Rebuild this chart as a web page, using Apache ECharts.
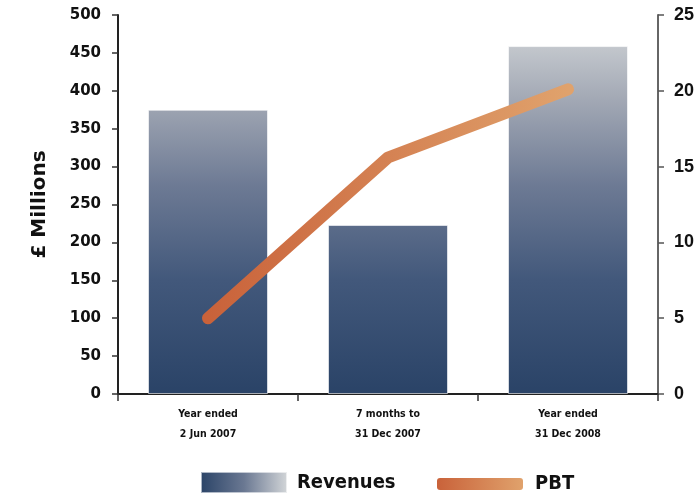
<!DOCTYPE html>
<html>
<head>
<meta charset="utf-8">
<script src="https://cdn.jsdelivr.net/npm/echarts@6/dist/echarts.min.js"></script>
<style>
html,body{margin:0;padding:0;background:#fff;}
#chart{width:698px;height:497px;}
</style>
</head>
<body>
<div id="chart"></div>
<script>
var categories = ['Year ended\n2 Jun 2007', '7 months to\n31 Dec 2007', 'Year ended\n31 Dec 2008'];
var revenues = [375, 223, 459];
var pbt = [5.0, 15.6, 20.1];
var leftTicks = {min: 0, max: 500, interval: 50};
var rightTicks = {min: 0, max: 25, interval: 5};

var chart = echarts.init(document.getElementById('chart'), null, {renderer: 'canvas'});

var barGrad = new echarts.graphic.LinearGradient(0, 394, 0, 15, [
  {offset: 0, color: '#2a4367'},
  {offset: 0.3, color: '#42587b'},
  {offset: 0.55, color: '#6d7a94'},
  {offset: 0.78, color: '#a3a9b5'},
  {offset: 1, color: '#d6d9db'}
], true);
var lineGrad = new echarts.graphic.LinearGradient(208, 0, 568, 0, [
  {offset: 0, color: '#c9623a'},
  {offset: 1, color: '#e0a26c'}
], true);
var legendBarGrad = new echarts.graphic.LinearGradient(0, 0, 1, 0, [
  {offset: 0, color: '#2a4367'},
  {offset: 0.5, color: '#6a7892'},
  {offset: 1, color: '#d4d7d9'}
]);
var legendLineGrad = new echarts.graphic.LinearGradient(0, 0, 1, 0, [
  {offset: 0, color: '#c9623a'},
  {offset: 1, color: '#e0a26c'}
]);

var option = {
  animation: false,
  backgroundColor: '#ffffff',
  grid: {left: 118, right: 40, top: 15, bottom: 103},
  legend: [
    {
      data: [{name: 'Revenues', itemStyle: {color: legendBarGrad}}],
      left: 195, top: 466, padding: 5,
      icon: 'rect', itemWidth: 86, itemHeight: 21, itemGap: 10,
      textStyle: {fontFamily: 'DejaVu Sans Condensed', fontWeight: 'bold', fontSize: 20, color: '#111', padding: [0, 0, 0, 5]}
    },
    {
      data: [{name: 'PBT', itemStyle: {color: legendLineGrad}}],
      left: 432, top: 469, padding: 5,
      icon: 'roundRect', itemWidth: 86, itemHeight: 12, itemGap: 10,
      textStyle: {fontFamily: 'DejaVu Sans Condensed', fontWeight: 'bold', fontSize: 20, color: '#111', padding: [0, 0, 0, 7]}
    }
  ],
  xAxis: {
    type: 'category',
    data: categories,
    boundaryGap: true,
    axisLine: {lineStyle: {color: '#222', width: 2}},
    axisTick: {show: true, length: 7, lineStyle: {color: '#333', width: 1.5}},
    axisLabel: {
      interval: 0,
      fontFamily: 'DejaVu Sans Condensed', fontWeight: 'bold', fontSize: 10.5,
      color: '#111', lineHeight: 20, margin: 10
    }
  },
  yAxis: [
    {
      type: 'value',
      min: leftTicks.min, max: leftTicks.max, interval: leftTicks.interval,
      name: '£ Millions',
      nameLocation: 'middle',
      nameRotate: 90,
      nameGap: 68,
      nameTextStyle: {fontFamily: 'DejaVu Sans', fontWeight: 'bold', fontSize: 20, color: '#111'},
      axisLine: {show: true, lineStyle: {color: '#222', width: 2}},
      axisTick: {show: true, length: 6, lineStyle: {color: '#333', width: 1.5}},
      splitLine: {show: false},
      axisLabel: {fontFamily: 'DejaVu Sans', fontWeight: 'bold', fontSize: 15, color: '#111', margin: 17}
    },
    {
      type: 'value',
      position: 'right',
      min: rightTicks.min, max: rightTicks.max, interval: rightTicks.interval,
      axisLine: {show: true, lineStyle: {color: '#666', width: 2}},
      axisTick: {show: true, length: 6, lineStyle: {color: '#555', width: 1.5}},
      splitLine: {show: false},
      axisLabel: {fontFamily: 'Liberation Sans', fontWeight: 'bold', fontSize: 18, color: '#111', margin: 16}
    }
  ],
  series: [
    {
      name: 'Revenues',
      type: 'bar',
      yAxisIndex: 0,
      data: revenues,
      barWidth: 120,
      itemStyle: {color: barGrad, borderColor: 'rgba(255,255,255,0.6)', borderWidth: 1}
    },
    {
      name: 'PBT',
      type: 'line',
      yAxisIndex: 1,
      data: pbt,
      symbol: 'none',
      itemStyle: {color: '#d5824f'},
      lineStyle: {color: lineGrad, width: 12, cap: 'round', join: 'round'}
    }
  ]
};
chart.setOption(option);
</script>
</body>
</html>
